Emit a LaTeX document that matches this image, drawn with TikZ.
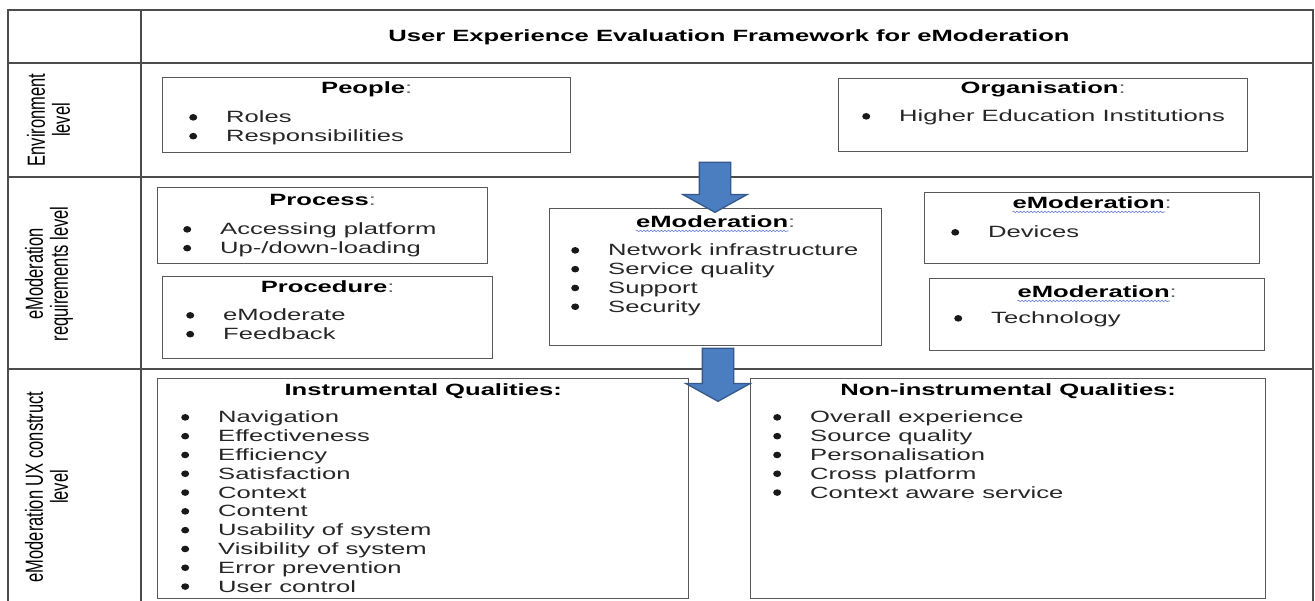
\documentclass[tikz,border=0pt]{standalone}
\usepackage{fontspec}
\setmainfont{Liberation Sans}[FakeStretch=1.57]
\newfontfamily\sidefont{Liberation Sans}
\usepackage{graphicx}
\usetikzlibrary{shapes.arrows, positioning, decorations.pathmorphing}

\definecolor{arrowblue}{HTML}{4A7EC0}
\definecolor{arrowedge}{HTML}{35598A}
\definecolor{wavyblue}{HTML}{6A7FD8}

\tikzset{
  grid line/.style={draw=black!70, line width=1.6pt},
  box/.style={rectangle, draw=black!65, line width=1.4pt, inner sep=0pt, anchor=north west},
  head/.style={inner sep=0pt, anchor=north, font=\fontsize{16.3}{18.8}\selectfont},
  items/.style={inner sep=0pt, anchor=north west, align=left, text=black!85,
    font=\fontsize{16.3}{18.8}\selectfont},
  level/.style={rotate=90, inner sep=0pt, font=\sidefont\fontsize{16.5}{16}\selectfont},
  flow/.style={single arrow, rotate=-90, fill=arrowblue, draw=arrowedge, line width=1.3pt,
    inner xsep=0pt, inner ysep=15pt, single arrow head extend=16.5pt,
    single arrow tip angle=122},
  squiggle/.style={draw=wavyblue, line width=0.6pt, decorate,
    decoration={snake, amplitude=0.8pt, segment length=3.5pt}}
}
% bullet dot plus gap before the item text
\newcommand{\bul}{\strut\makebox[37pt][l]{\tikz[baseline=-5.6pt]\fill[black!90] (0,0) ellipse (4pt and 3.3pt);}}
\newcommand{\headcolon}{\textcolor{black!60}{:}}

\begin{document}
\begin{tikzpicture}[x=1pt, y=-1pt]
\useasboundingbox (0,0) rectangle (1315,601);
\clip (0,0) rectangle (1315,601);

% table frame
\draw[grid line] (8,10) rectangle (1313,640);
\draw[grid line] (141,10) -- (141,640);
\draw[grid line] (8,63) -- (1313,63);
\draw[grid line] (8,177) -- (1313,177);
\draw[grid line] (8,369) -- (1313,369);

\node[head, anchor=center] (title) at (729,37)
  {\textbf{User Experience Evaluation Framework for eModeration}};

% level labels
\node[level] (envLevel) at (52,120)
  {\scalebox{1}[1.5]{\begin{tabular}{@{}c@{}}Environment\\level\end{tabular}}};
\node[level] (reqLevel) at (50,274)
  {\scalebox{1}[1.5]{\begin{tabular}{@{}c@{}}eModeration\\requirements level\end{tabular}}};
\node[level] (uxLevel) at (50,487)
  {\scalebox{1}[1.5]{\begin{tabular}{@{}c@{}}eModeration UX construct\\level\end{tabular}}};

% environment level
\node[box, minimum width=408pt, minimum height=75pt] (people) at (162,77) {};
\node[head] (peopleHead) at ([yshift=-3.6pt]people.north) {\strut\textbf{People}\headcolon};
\node[items] (peopleList) at ([xshift=27pt, yshift=-32.6pt]people.north west)
  {\bul Roles\\ \bul Responsibilities};

\node[box, minimum width=409pt, minimum height=73pt] (organisation) at (838,78) {};
\node[head] (orgHead) at ([yshift=-2.6pt]organisation.north) {\strut\textbf{Organisation}\headcolon};
\node[items] (orgList) at ([xshift=24pt, yshift=-30.6pt]organisation.north west)
  {\bul Higher Education Institutions};

% requirements level
\node[box, minimum width=330pt, minimum height=76pt] (process) at (157,187) {};
\node[head] (processHead) at ([yshift=-5.6pt]process.north) {\strut\textbf{Process}\headcolon};
\node[items] (processList) at ([xshift=26pt, yshift=-34.6pt]process.north west)
  {\bul Accessing platform\\ \bul Up-/down-loading};

\node[box, minimum width=330pt, minimum height=82pt] (procedure) at (162,276) {};
\node[head] (procedureHead) at ([yshift=-3.6pt]procedure.north) {\strut\textbf{Procedure}\headcolon};
\node[items] (procedureList) at ([xshift=24pt, yshift=-31.6pt]procedure.north west)
  {\bul eModerate\\ \bul Feedback};

\node[box, minimum width=332pt, minimum height=137pt] (emodreq) at (549,208) {};
\node[head] (emodreqHead) at ([yshift=-6.6pt]emodreq.north) {\strut\textbf{eModeration}\headcolon};
\node[items] (emodreqList) at ([xshift=22pt, yshift=-34.6pt]emodreq.north west)
  {\bul Network infrastructure\\ \bul Service quality\\ \bul Support\\ \bul Security};

\node[box, minimum width=335pt, minimum height=71pt] (devices) at (924,192) {};
\node[head] (devicesHead) at ([yshift=-3.6pt]devices.north) {\strut\textbf{eModeration}\headcolon};
\node[items] (devicesList) at ([xshift=27pt, yshift=-32.6pt]devices.north west)
  {\bul Devices};

\node[box, minimum width=335pt, minimum height=72pt] (technology) at (929,278) {};
\node[head] (technologyHead) at ([yshift=-6.6pt]technology.north) {\strut\textbf{eModeration}\headcolon};
\node[items] (technologyList) at ([xshift=25pt, yshift=-32.6pt]technology.north west)
  {\bul Technology};

% spelling marks under eModeration
\foreach \h in {emodreqHead, devicesHead, technologyHead}
  \draw[squiggle] ([yshift=-3pt]\h.base west) -- ([xshift=-7pt, yshift=-3pt]\h.base east);

% UX construct level
\node[box, minimum width=531pt, minimum height=220pt] (instrumental) at (157,378) {};
\node[head] (instrumentalHead) at ([yshift=-4.6pt]instrumental.north)
  {\strut\textbf{Instrumental Qualities:}};
\node[items] (instrumentalList) at ([xshift=24pt, yshift=-31.6pt]instrumental.north west)
  {\bul Navigation\\ \bul Effectiveness\\ \bul Efficiency\\ \bul Satisfaction\\
   \bul Context\\ \bul Content\\ \bul Usability of system\\ \bul Visibility of system\\
   \bul Error prevention\\ \bul User control};

\node[box, minimum width=515pt, minimum height=220pt] (noninstr) at (750,378) {};
\node[head] (noninstrHead) at ([yshift=-4.6pt]noninstr.north)
  {\strut\textbf{Non-instrumental Qualities:}};
\node[items] (noninstrList) at ([xshift=23pt, yshift=-31.6pt]noninstr.north west)
  {\bul Overall experience\\ \bul Source quality\\ \bul Personalisation\\
   \bul Cross platform\\ \bul Context aware service};

% block arrows between levels
\node[flow, minimum height=50pt] (arrowEnv) at (715,183) {};
\node[flow, minimum height=53pt] (arrowReq) at (718,370.5) {};
\end{tikzpicture}
\end{document}
